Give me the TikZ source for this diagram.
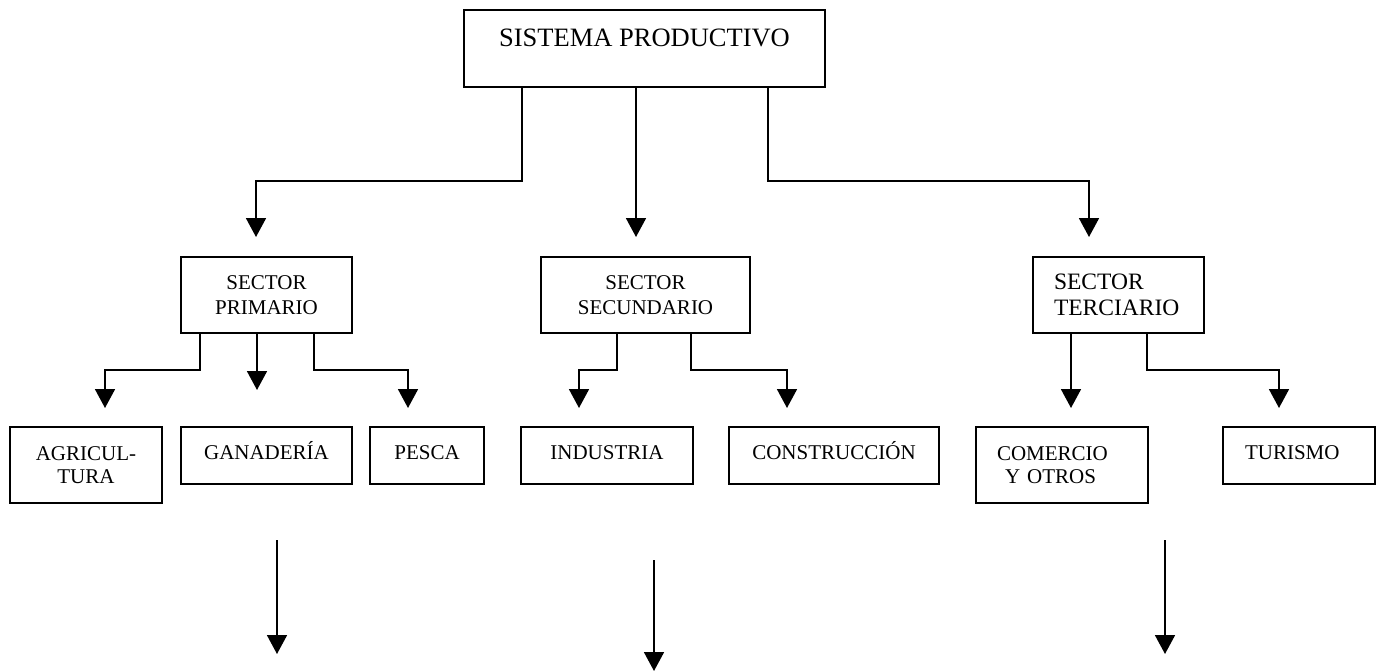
\documentclass[tikz,border=0pt]{standalone}
\usepackage{fontspec}
\setmainfont{Liberation Serif}
\usepackage{tikz}
\usetikzlibrary{arrows.meta,positioning,calc}
\tikzset{
    box/.style = {
        rectangle, draw, line width=1.8pt, inner sep=0pt, outer sep=0pt,
        align=center
    },
    topbox/.style    = {box, minimum width=361pt, minimum height=77pt,
        font=\fontsize{26.5}{30}\selectfont, text height=17.5pt, text depth=21pt},
    sectorbox/.style = {box, minimum width=171pt, minimum height=76pt,
        font=\fontsize{21}{25}\selectfont},
    leafbox/.style   = {box, minimum height=57pt,
        font=\fontsize{21}{23}\selectfont, text height=14pt, text depth=7pt},
    tallbox/.style   = {box, minimum height=76pt,
        font=\fontsize{21}{23}\selectfont},
    link/.style  = {draw, -{Triangle[length=19pt,width=20pt]}, line width=1.8pt}
}
\begin{document}
\begin{tikzpicture}[x=1pt, y=1pt]
  \useasboundingbox (0,0) rectangle (1385,-672);

  \node [topbox] (sis) at (644.5,-48.5) {SISTEMA PRODUCTIVO};
  \node [sectorbox, minimum width=209pt, below=170pt of sis, xshift=1pt] (sec)
        {SECTOR\\SECUNDARIO};
  \node [sectorbox, left=189pt of sec] (pri) {SECTOR\\PRIMARIO};
  \node [sectorbox, right=283pt of sec, align=left, text width=129pt,
         font=\fontsize{23.5}{26}\selectfont] (ter) {SECTOR\\TERCIARIO};

  \node [leafbox, minimum width=171pt, below=94pt of pri] (gan) {GANADERÍA};
  \node [tallbox, minimum width=152pt, left=19pt of gan.north west,
         anchor=north east] (agr) {AGRICUL-\\TURA};
  \node [leafbox, minimum width=114pt, right=18pt of gan] (pes) {PESCA};
  \node [leafbox, minimum width=172pt, right=37pt of pes] (ind) {INDUSTRIA};
  \node [leafbox, minimum width=210pt, right=36pt of ind] (con) {CONSTRUCCIÓN};
  \node [tallbox, minimum width=172pt, right=37pt of con.north east,
         anchor=north west, align=left, text width=130pt] (com)
        {COMERCIO\\\hspace*{8pt}Y OTROS};
  \node [leafbox, minimum width=152pt, right=75pt of com.north east,
         anchor=north west, align=left, text width=108pt] (tur) {TURISMO};

  \path [link] ($(sis.south)+(-122.5,0)$) -- ++(0,-94) -| ($(pri.north)+(-10.5,20)$);
  \path [link] ($(sis.south)+(-8.5,0)$) -- ++(0,-150);
  \path [link] ($(sis.south)+(123.5,0)$) -- ++(0,-94) -| ($(ter.north)+(-29.5,20)$);

  \path [link] ($(pri.south)+(-66.5,0)$) -- ++(0,-37) -| ($(agr.north)+(19,19)$);
  \path [link] ($(pri.south)+(-9.5,0)$) -- ++(0,-57);
  \path [link] ($(pri.south)+(47.5,0)$) -- ++(0,-37) -| ($(pes.north)+(-19,19)$);

  \path [link] ($(sec.south)+(-28.5,0)$) -- ++(0,-37) -| ($(ind.north)+(-28,19)$);
  \path [link] ($(sec.south)+(45.5,0)$) -- ++(0,-37) -| ($(con.north)+(-47,19)$);

  \path [link] ($(ter.south)+(-47.5,0)$) -- ++(0,-75);
  \path [link] ($(ter.south)+(28.5,0)$) -- ++(0,-37) -| ($(tur.north)+(-20,19)$);

  \coordinate (priout) at (277,-540);
  \coordinate (priend) at (277,-654);
  \coordinate (secout) at (654,-560);
  \coordinate (secend) at (654,-671);
  \coordinate (terout) at (1165,-540);
  \coordinate (terend) at (1165,-654);
  \path [link] (priout) -- (priend);
  \path [link] (secout) -- (secend);
  \path [link] (terout) -- (terend);
\end{tikzpicture}
\end{document}
